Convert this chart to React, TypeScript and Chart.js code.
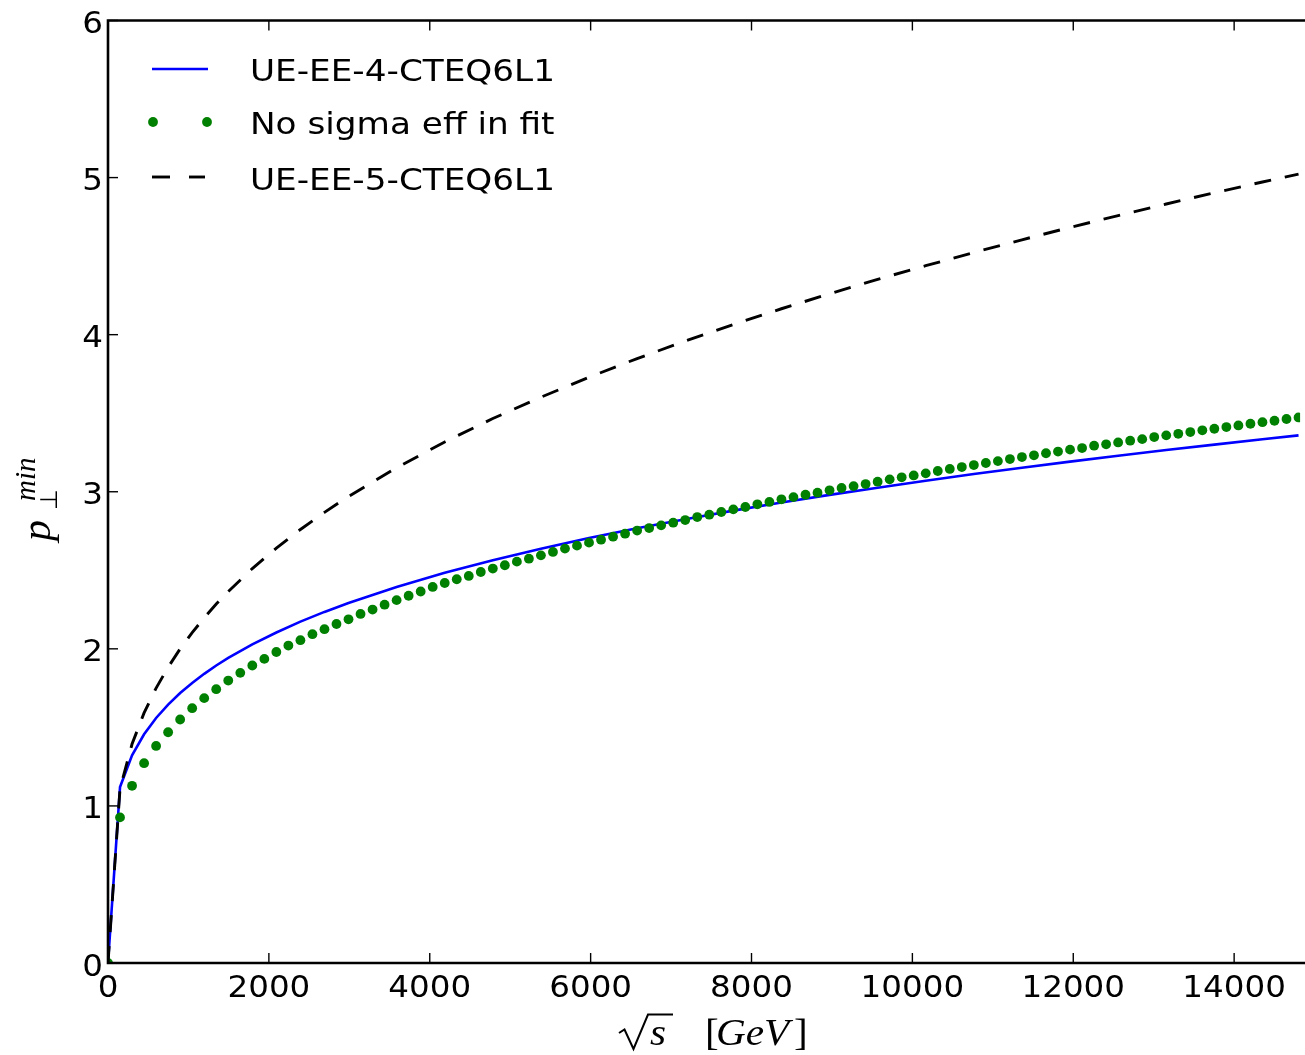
import { useEffect, useRef } from 'react';
import { Chart, registerables } from 'chart.js';

Chart.register(...registerables);

// Sampled centre-of-mass energies (GeV) for the scatter series
const energyGrid = [
  0, 149.5, 299, 448.5, 598, 747.5, 897, 1046.5, 1196, 1345.5,
  1495, 1644.5, 1794, 1943.5, 2093, 2242.5, 2392, 2541.5, 2691, 2840.5,
  2990, 3139.5, 3289, 3438.5, 3588, 3737.5, 3887, 4036.5, 4186, 4335.5,
  4485, 4634.5, 4784, 4933.5, 5083, 5232.5, 5382, 5531.5, 5681, 5830.5,
  5980, 6129.5, 6279, 6428.5, 6578, 6727.5, 6877, 7026.5, 7176, 7325.5,
  7475, 7624.5, 7774, 7923.5, 8073, 8222.5, 8372, 8521.5, 8671, 8820.5,
  8970, 9119.5, 9269, 9418.5, 9568, 9717.5, 9867, 10016.5, 10166, 10315.5,
  10465, 10614.5, 10764, 10913.5, 11063, 11212.5, 11362, 11511.5, 11661, 11810.5,
  11960, 12109.5, 12259, 12408.5, 12558, 12707.5, 12857, 13006.5, 13156, 13305.5,
  13455, 13604.5, 13754, 13903.5, 14053, 14202.5, 14352, 14501.5, 14651, 14800.5,
];

// p_T^min for the fit without the effective sigma
const noSigmaEffFit = [
  0, 0.927, 1.128, 1.272, 1.382, 1.469, 1.55, 1.622, 1.686, 1.743,
  1.798, 1.847, 1.894, 1.936, 1.98, 2.021, 2.055, 2.093, 2.125, 2.158,
  2.188, 2.222, 2.25, 2.281, 2.31, 2.338, 2.365, 2.394, 2.419, 2.443,
  2.464, 2.489, 2.511, 2.532, 2.555, 2.574, 2.595, 2.617, 2.638, 2.657,
  2.676, 2.695, 2.714, 2.733, 2.753, 2.769, 2.786, 2.803, 2.82, 2.839,
  2.854, 2.871, 2.888, 2.903, 2.92, 2.935, 2.952, 2.966, 2.981, 2.994,
  3.009, 3.024, 3.036, 3.049, 3.064, 3.079, 3.092, 3.104, 3.117, 3.132,
  3.145, 3.157, 3.17, 3.183, 3.195, 3.208, 3.221, 3.232, 3.245, 3.256,
  3.268, 3.278, 3.293, 3.302, 3.314, 3.325, 3.335, 3.348, 3.359, 3.369,
  3.38, 3.391, 3.401, 3.412, 3.422, 3.433, 3.443, 3.452, 3.463, 3.473,
];

// Energies (GeV) at which the two tune curves are sampled
const curveEnergy = [
  0, 149.5, 299, 448.5, 598, 747.5, 897, 1046.5, 1196, 1345.5,
  1495, 1794, 2093, 2392, 2691, 2990, 3588, 4186, 4784, 5382,
  5980, 6578, 7176, 7774, 8372, 8970, 9568, 10166, 10764, 11362,
  11960, 12558, 13156, 13754, 14352, 14800.5,
];

const ueEE4 = [
  0, 1.12, 1.322, 1.456, 1.56, 1.645, 1.719, 1.783, 1.841, 1.894,
  1.942, 2.028, 2.104, 2.173, 2.235, 2.292, 2.394, 2.484, 2.564, 2.637,
  2.705, 2.767, 2.825, 2.88, 2.931, 2.98, 3.026, 3.07, 3.113, 3.153,
  3.192, 3.229, 3.266, 3.3, 3.334, 3.359,
];

const ueEE5 = [
  0, 1.11, 1.394, 1.592, 1.75, 1.883, 2.0, 2.103, 2.198, 2.285,
  2.365, 2.511, 2.641, 2.76, 2.869, 2.97, 3.153, 3.317, 3.466, 3.602,
  3.729, 3.848, 3.959, 4.065, 4.165, 4.26, 4.352, 4.439, 4.523, 4.604,
  4.683, 4.758, 4.832, 4.903, 4.972, 5.022,
];

const xTickValues = [0, 2000, 4000, 6000, 8000, 10000, 12000, 14000];
const xTickLabels = ['0', '2000', '4000', '6000', '8000', '10000', '12000', '14000'];
const yTickValues = [0, 1, 2, 3, 4, 5, 6];
const yTickLabels = ['0', '1', '2', '3', '4', '5', '6'];
const legendLabels = ['UE-EE-4-CTEQ6L1', 'No sigma eff in fit', 'UE-EE-5-CTEQ6L1'];

const BLUE = '#0000ff';
const GREEN = '#008000';
const BLACK = '#000000';
const SANS = '"DejaVu Sans", "Bitstream Vera Sans", sans-serif';
const SERIF = '"Liberation Serif", "DejaVu Serif", serif';
const STRETCH = 1.085;

function wideText(
  ctx: CanvasRenderingContext2D,
  text: string,
  x: number,
  y: number,
  align: CanvasTextAlign,
  sx = STRETCH,
) {
  ctx.save();
  ctx.translate(x, y);
  ctx.scale(sx, 1);
  ctx.textAlign = align;
  ctx.textBaseline = 'alphabetic';
  ctx.fillText(text, 0, 0);
  ctx.restore();
}

function segment(ctx: CanvasRenderingContext2D, x1: number, y1: number, x2: number, y2: number) {
  ctx.beginPath();
  ctx.moveTo(x1, y1);
  ctx.lineTo(x2, y2);
  ctx.stroke();
}

// Box frame with inward ticks, tick labels, axis titles and the legend
const decorations = {
  id: 'decorations',
  afterDraw(chart: any) {
    const { ctx, chartArea: a } = chart;
    const xs = chart.scales.x;
    const ys = chart.scales.y;
    ctx.save();

    ctx.strokeStyle = BLACK;
    ctx.lineWidth = 2.6;
    ctx.beginPath();
    ctx.moveTo(a.right + 10, a.top);
    ctx.lineTo(a.left, a.top);
    ctx.lineTo(a.left, a.bottom);
    ctx.lineTo(a.right + 10, a.bottom);
    ctx.stroke();

    ctx.lineWidth = 1.4;
    xs.ticks.forEach((t: any) => {
      const px = xs.getPixelForValue(t.value);
      segment(ctx, px, a.bottom, px, a.bottom - 10);
      segment(ctx, px, a.top, px, a.top + 10);
    });
    ys.ticks.forEach((t: any) => {
      const py = ys.getPixelForValue(t.value);
      segment(ctx, a.left, py, a.left + 10, py);
    });

    ctx.fillStyle = BLACK;
    ctx.font = `30px ${SANS}`;
    xs.ticks.forEach((t: any, i: number) => {
      const px = xs.getPixelForValue(t.value);
      wideText(ctx, xTickLabels[i], px, a.bottom + 34, 'center');
    });
    ys.ticks.forEach((t: any, i: number) => {
      const py = ys.getPixelForValue(t.value);
      wideText(ctx, yTickLabels[i], a.left - 5, py + 12.5, 'right');
    });

    // x title: sqrt(s)  [GeV]
    ctx.lineWidth = 2;
    ctx.lineJoin = 'miter';
    ctx.beginPath();
    ctx.moveTo(619, 1033);
    ctx.lineTo(624.5, 1029.5);
    ctx.lineTo(633.5, 1049);
    ctx.lineTo(648, 1014.5);
    ctx.lineTo(673, 1014.5);
    ctx.stroke();
    ctx.font = `italic 38px ${SERIF}`;
    wideText(ctx, 's', 650, 1045, 'left');
    ctx.font = `38px ${SERIF}`;
    wideText(ctx, '[', 705, 1045, 'left');
    ctx.font = `italic 38px ${SERIF}`;
    wideText(ctx, 'GeV', 716, 1045, 'left');
    ctx.font = `38px ${SERIF}`;
    wideText(ctx, ']', 794, 1045, 'left');

    // y title: p_perp^min, reading upwards
    ctx.save();
    ctx.translate(50, 541);
    ctx.rotate(-Math.PI / 2);
    ctx.font = `italic 42px ${SERIF}`;
    wideText(ctx, 'p', 0, 0, 'left', 1);
    ctx.font = `24px ${SANS}`;
    wideText(ctx, '\u22A5', 31, 7, 'left', 1);
    ctx.font = `italic 29px ${SERIF}`;
    wideText(ctx, 'min', 40, -15, 'left', 1);
    ctx.restore();

    // legend
    ctx.lineWidth = 2.6;
    ctx.strokeStyle = BLUE;
    segment(ctx, 152, 69, 208, 69);
    ctx.fillStyle = GREEN;
    [153, 207].forEach((cx) => {
      ctx.beginPath();
      ctx.arc(cx, 122, 4.9, 0, Math.PI * 2);
      ctx.fill();
    });
    ctx.strokeStyle = BLACK;
    ctx.lineWidth = 2.9;
    segment(ctx, 152, 177, 170, 177);
    segment(ctx, 189, 177, 205, 177);
    ctx.fillStyle = BLACK;
    ctx.font = `31px ${SANS}`;
    const baselines = [80.5, 134, 190];
    legendLabels.forEach((label, i) => wideText(ctx, label, 250, baselines[i], 'left', 1.105));

    ctx.restore();
  },
};

export default function App() {
  const canvasRef = useRef<HTMLCanvasElement | null>(null);

  useEffect(() => {
    const canvas = canvasRef.current;
    if (!canvas) return;

    const chart = new Chart(canvas, {
      type: 'line',
      data: {
        datasets: [
          {
            label: legendLabels[2],
            data: curveEnergy.map((x, i) => ({ x, y: ueEE5[i] })),
            borderColor: BLACK,
            borderWidth: 2.9,
            borderDash: [17, 14],
            pointRadius: 0,
            tension: 0,
            fill: false,
            order: 1,
          },
          {
            label: legendLabels[1],
            data: energyGrid.map((x, i) => ({ x, y: noSigmaEffFit[i] })),
            showLine: false,
            pointRadius: 4.9,
            pointBorderWidth: 0,
            pointBackgroundColor: GREEN,
            pointBorderColor: GREEN,
            borderColor: GREEN,
            order: 2,
          },
          {
            label: legendLabels[0],
            data: curveEnergy.map((x, i) => ({ x, y: ueEE4[i] })),
            borderColor: BLUE,
            borderWidth: 2.6,
            pointRadius: 0,
            tension: 0,
            fill: false,
            order: 3,
          },
        ],
      },
      options: {
        responsive: false,
        animation: false,
        events: [],
        layout: { padding: { top: 20.5, left: 0, right: 0, bottom: 0 } },
        plugins: {
          legend: { display: false },
          tooltip: { enabled: false },
        },
        scales: {
          x: {
            type: 'linear',
            min: 0,
            max: 14820,
            grid: { display: false },
            border: { display: false },
            ticks: { display: false },
            afterBuildTicks: (scale: any) => {
              scale.ticks = xTickValues.map((value) => ({ value }));
            },
            afterFit: (scale: any) => {
              scale.height = 92;
              scale.paddingLeft = 0;
              scale.paddingRight = 0;
            },
          },
          y: {
            type: 'linear',
            min: 0,
            max: 6,
            grid: { display: false },
            border: { display: false },
            ticks: { display: false },
            afterBuildTicks: (scale: any) => {
              scale.ticks = yTickValues.map((value) => ({ value }));
            },
            afterFit: (scale: any) => {
              scale.width = 108;
              scale.paddingTop = 0;
              scale.paddingBottom = 0;
            },
          },
        },
      },
      plugins: [decorations],
    });

    return () => chart.destroy();
  }, []);

  return (
    <div style={{ position: 'fixed', left: 0, top: 0, width: 1305, height: 1055, background: '#fff' }}>
      <canvas ref={canvasRef} width={1305} height={1055} />
    </div>
  );
}
